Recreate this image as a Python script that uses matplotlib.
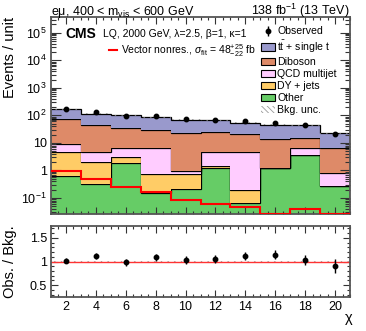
import matplotlib
matplotlib.use('Agg')
import matplotlib.pyplot as plt
import numpy as np
from matplotlib.ticker import LogLocator, MultipleLocator, FuncFormatter, NullFormatter
from matplotlib.patches import Patch

plt.rcParams['font.family'] = ['Liberation Sans', 'DejaVu Sans']
plt.rcParams['mathtext.fontset'] = 'custom'
plt.rcParams['mathtext.rm'] = 'Liberation Sans'
plt.rcParams['mathtext.it'] = 'Liberation Sans:italic'
plt.rcParams['mathtext.bf'] = 'Liberation Sans:bold'
plt.rcParams['hatch.linewidth'] = 0.6

# ---------------- data ----------------
bin_edges = [1, 3, 5, 7, 9, 11, 13, 15, 17, 19, 21]
x_ticks = [2, 4, 6, 8, 10, 12, 14, 16, 18, 20]

other   = [0.63, 0.31, 1.82, 0.148, 0.218, 1.26, 0.064, 1.19, 3.64, 0.27]
dyjets  = [3.93, 1.77, 1.18, 0.57, 0.50, 0.23, 0.131, 0.02, 0.02, 0.003]
qcd     = [4.34, 2.48, 3.70, 5.98, 0.26, 3.31, 4.60, 0.05, 3.04, 0.52]
diboson = [62.9, 40.1, 27.3, 22.7, 21.3, 20.0, 16.2, 12.2, 8.8, 5.5]
ttbar   = [96.0, 71.0, 66.0, 57.0, 47.0, 42.0, 33.0, 32.0, 27.5, 16.2]

signal  = [0.95, 0.50, 0.245, 0.165, 0.085, 0.06, 0.046, 0.015, 0.039, 0.015]

observed     = [171, 128, 98, 94, 71.5, 70, 60.5, 52, 44.5, 20.5]
observed_err = [9.2, 7.3, 7.0, 6.5, 5.9, 5.7, 4.9, 4.6, 4.5, 3.4]
bkg_unc_frac = [0.04, 0.04, 0.04, 0.04, 0.04, 0.04, 0.04, 0.05, 0.05, 0.06]

components = [
    (other,   '#66CC66', 'Other'),
    (dyjets,  '#FFCC66', 'DY + jets'),
    (qcd,     '#FFCCFF', 'QCD multijet'),
    (diboson, '#DE8A68', 'Diboson'),
    (ttbar,   '#9999CC', r'$\mathrm{t\bar{t}}$ + single t'),
]

# ---------------- figure ----------------
W, H = 366, 331
fig = plt.figure(figsize=(W / 100, H / 100), dpi=100)

def axrect(l, t, r, b):
    return [l / W, 1 - b / H, (r - l) / W, (b - t) / H]

ax = fig.add_axes(axrect(51, 17, 350, 214))
axr = fig.add_axes(axrect(51, 226, 350, 297))

edges = np.array(bin_edges, dtype=float)
centers = 0.5 * (edges[:-1] + edges[1:])
ymin, ymax = 10 ** -1.58, 10 ** 5.57

cum = np.full(len(centers), 1e-4)
handles = {}
for vals, col, lab in components:
    upper = cum + np.array(vals)
    ax.stairs(upper, edges, baseline=cum, fill=True, color=col, lw=0)
    ax.stairs(upper, edges, baseline=None, color='black', lw=0.9)
    handles[lab] = Patch(facecolor=col, edgecolor='black', lw=0.8)
    cum = upper
total = cum

unc = np.array(bkg_unc_frac)
ax.stairs(total * (1 + unc), edges, baseline=total * (1 - unc), fill=True,
          facecolor='none', edgecolor='#888888', hatch='\\\\\\\\\\', lw=0)

ax.stairs(np.maximum(np.array(signal), ymin * 1.03), edges, baseline=None,
          color='#FF0000', lw=1.5, zorder=5)

obs = ax.errorbar(centers, observed, yerr=observed_err, fmt='o', color='black',
                  ms=3.2, elinewidth=1.0, capsize=0, zorder=6)

ax.set_yscale('log')
ax.set_xlim(edges[0], edges[-1])
ax.set_ylim(ymin, ymax)

def logfmt(v, p):
    e = int(round(np.log10(v)))
    if e == 0:
        return '1'
    if e == 1:
        return '10'
    return r'$10^{%d}$' % e

ax.yaxis.set_major_locator(LogLocator(base=10, numticks=20))
ax.yaxis.set_minor_locator(LogLocator(base=10, subs=np.arange(2, 10), numticks=20))
ax.yaxis.set_major_formatter(FuncFormatter(logfmt))
ax.yaxis.set_minor_formatter(NullFormatter())
ax.set_xticks(x_ticks)
ax.xaxis.set_minor_locator(MultipleLocator(0.5))
ax.tick_params(axis='x', labelbottom=False)

# ratio panel
ratio = np.array(observed) / total
ratio_err = np.array(observed_err) / total
axr.fill_between(edges, 1 - 0.015, 1 + 0.015, facecolor='none',
                 edgecolor='#999999', hatch='\\\\\\\\\\', lw=0)
axr.axhline(1.0, color='#FF3333', lw=1.0)
axr.errorbar(centers, ratio, yerr=ratio_err, fmt='o', color='black', ms=3.2,
             elinewidth=1.0, capsize=0, zorder=6)
axr.set_xlim(edges[0], edges[-1])
axr.set_ylim(0.25, 1.75)
axr.set_xticks(x_ticks)
axr.xaxis.set_minor_locator(MultipleLocator(0.5))
axr.yaxis.set_major_locator(MultipleLocator(0.5))
axr.yaxis.set_minor_locator(MultipleLocator(0.1))
axr.yaxis.set_major_formatter(FuncFormatter(lambda v, p: f'{v:g}'))

for a in (ax, axr):
    for s in a.spines.values():
        s.set_color('#555555')
        s.set_linewidth(1.3)
    a.tick_params(which='both', direction='in', top=True, right=True,
                  labelsize=9, color='#333333', width=0.8, pad=3)
    a.tick_params(axis='x', which='major', length=5)
    a.tick_params(axis='x', which='minor', length=2.5)
ax.tick_params(axis='y', which='major', length=7)
ax.tick_params(axis='y', which='minor', length=3.5)
axr.tick_params(axis='y', which='major', length=5)
axr.tick_params(axis='y', which='minor', length=2.5)

# labels
ax.set_ylabel('Events / unit', fontsize=10.5, loc='top')
ax.yaxis.set_label_coords((17 - 51) / 299, 1.0)
axr.set_ylabel('Obs. / Bkg.', fontsize=10.5)
axr.yaxis.set_label_coords((17 - 51) / 299, 0.5)
fig.text(352 / W, 1 - 322 / H, 'χ', fontsize=10.5, ha='right', va='baseline')

fig.text(51 / W, 1 - 15.5 / H, r'eμ, 400 < m$_{\rm vis}$ < 600 GeV',
         fontsize=9, ha='left', va='baseline')
fig.text(350 / W, 1 - 15.5 / H, r'138 fb$^{-1}$ (13 TeV)',
         fontsize=9, ha='right', va='baseline')

fig.text(65 / W, 1 - 37.5 / H, 'CMS', fontsize=10, fontweight='bold',
         ha='left', va='baseline')
fig.text(103 / W, 1 - 36.8 / H, 'LQ, 2000 GeV, λ=2.5, β=1, κ=1', fontsize=7.5,
         ha='left', va='baseline')

# legends
leg_handles = [obs] + [handles[c[2]] for c in components[::-1]] + [
    Patch(facecolor='none', edgecolor='#999999', hatch='\\\\\\\\\\\\', lw=0)]
leg_labels = ['Observed'] + [c[2] for c in components[::-1]] + ['Bkg. unc.']
leg1 = ax.legend(leg_handles, leg_labels, loc='upper left',
                 bbox_to_anchor=((261 - 51) / 299, (214 - 26.5) / 197),
                 frameon=False, fontsize=7.6, borderpad=0, borderaxespad=0,
                 handlelength=1.33, handleheight=0.66, handletextpad=0.2,
                 labelspacing=0.2)
ax.add_artist(leg1)

sig_line, = ax.plot([], [], color='#FF0000', lw=1.5)
ax.legend([sig_line], [r'Vector nonres., $\sigma_{\rm fit}$ = 48$^{+25}_{-22}$ fb'],
          loc='upper left', bbox_to_anchor=((109 - 51) / 299, (214 - 42) / 197),
          frameon=False, fontsize=7.5, borderpad=0, borderaxespad=0,
          handlelength=0.8, handletextpad=0.35)

fig.savefig('out.png', dpi=100)
